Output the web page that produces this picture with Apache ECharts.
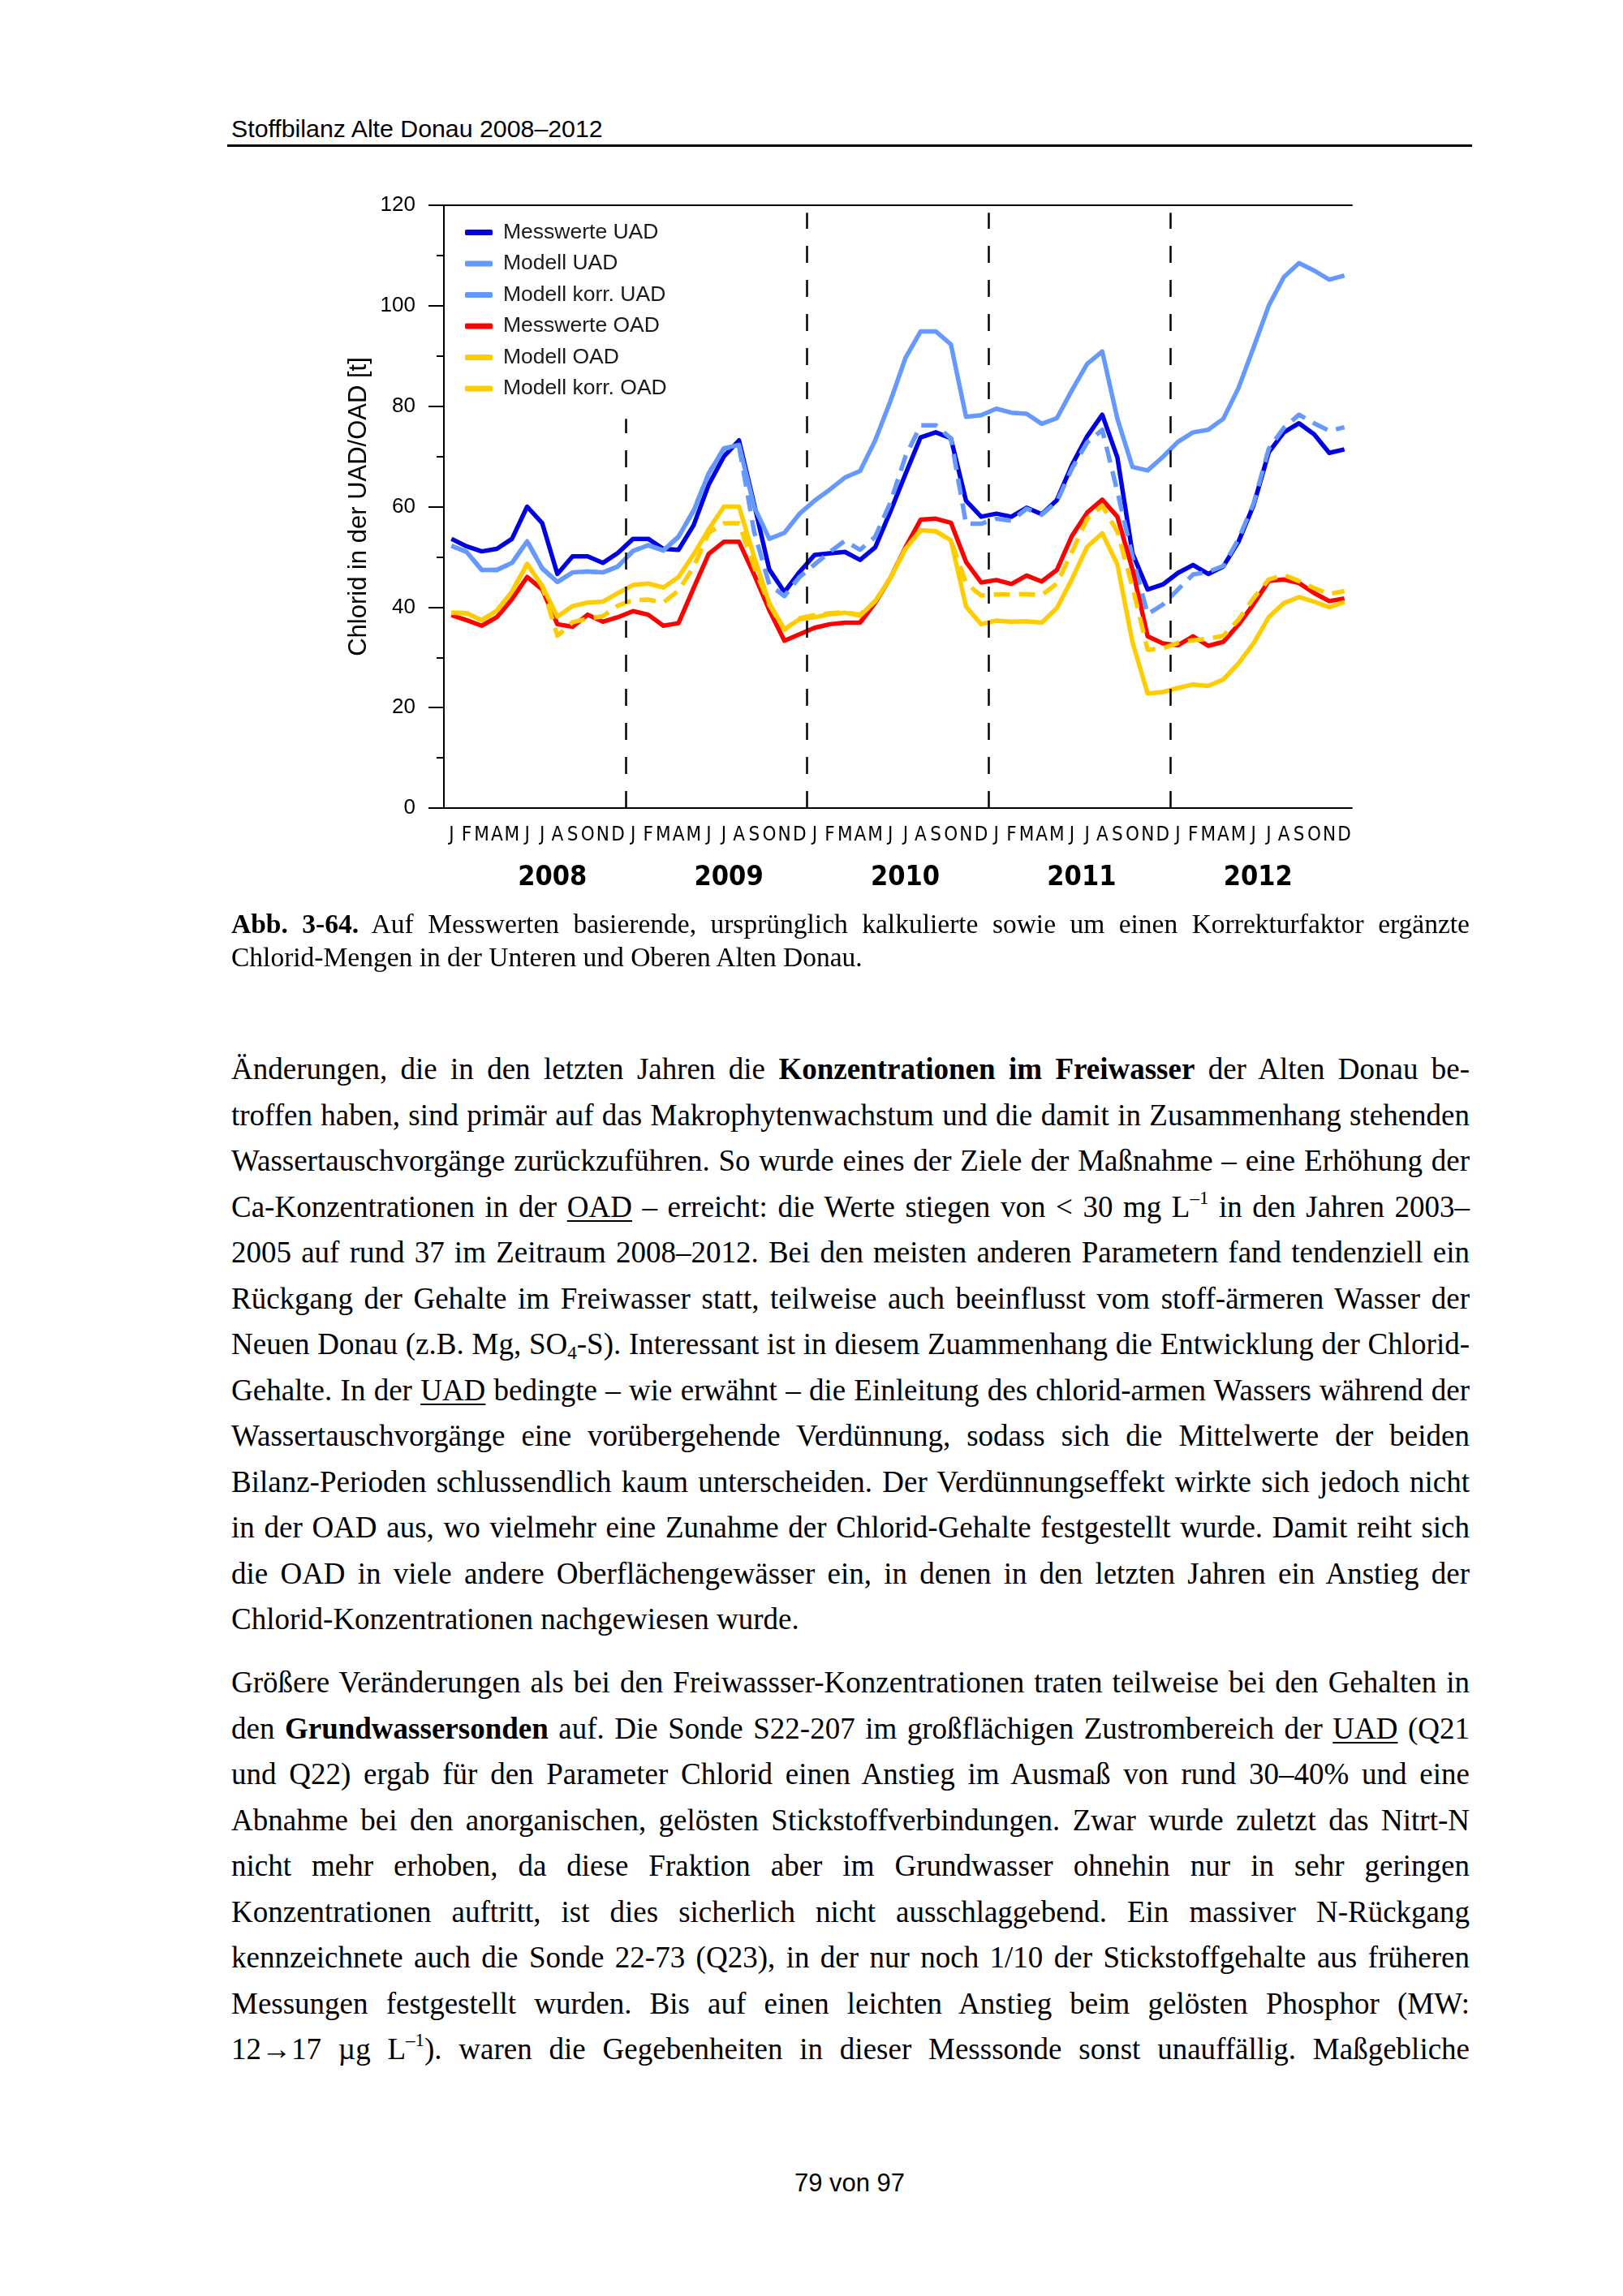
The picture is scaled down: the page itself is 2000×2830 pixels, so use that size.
<!DOCTYPE html>
<html>
<head>
<meta charset="utf-8">
<script src="https://cdn.jsdelivr.net/npm/echarts@6/dist/echarts.min.js"></script>
<style>
  html, body { margin: 0; padding: 0; background: #fff; }
  body { width: 2000px; height: 2830px; position: relative; overflow: hidden; }
  #chart { position: absolute; left: 0; top: 0; width: 2000px; height: 1120px; }
  .hdr { position: absolute; left: 285px; top: 141px; font-family: "Liberation Sans", Arial, sans-serif; font-size: 30.3px; line-height: 36px; color: #000; }
  .rule { position: absolute; left: 280px; top: 178px; width: 1534px; height: 3px; background: #000; }
  .ln { position: absolute; left: 285px; width: 1526px; font-family: "Liberation Serif", "Times New Roman", serif; color: #000; text-align: justify; text-align-last: justify; }
  .ln.last { text-align: left; text-align-last: left; }
  .cap { font-size: 33.5px; line-height: 40px; }
  .body { font-size: 37px; line-height: 56px; }
  u { text-decoration: underline; text-underline-offset: 4px; text-decoration-thickness: 2px; }
  sup { font-size: 0.62em; vertical-align: 0.7em; line-height: 0; }
  sub { font-size: 0.62em; vertical-align: -0.25em; line-height: 0; }
  .foot { position: absolute; left: 0; width: 2094px; text-align: center; top: 2673px; font-family: "Liberation Sans", Arial, sans-serif; font-size: 31px; line-height: 36px; }
</style>
</head>
<body>
<div class="hdr">Stoffbilanz Alte Donau 2008–2012</div>
<div class="rule"></div>
<div id="chart"></div>

<div class="ln cap" style="top:1119px"><b>Abb. 3-64.</b> Auf Messwerten basierende, ursprünglich kalkulierte sowie um einen Korrekturfaktor ergänzte</div>
<div class="ln cap last" style="top:1160px">Chlorid-Mengen in der Unteren und Oberen Alten Donau.</div>

<div class="ln body" style="top:1290px">Änderungen, die in den letzten Jahren die <b>Konzentrationen im Freiwasser</b> der Alten Donau be-</div>
<div class="ln body" style="top:1346.5px">troffen haben, sind primär auf das Makrophytenwachstum und die damit in Zusammenhang stehenden</div>
<div class="ln body" style="top:1403px">Wassertauschvorgänge zurückzuführen. So wurde eines der Ziele der Maßnahme – eine Erhöhung der</div>
<div class="ln body" style="top:1459.5px">Ca-Konzentrationen in der <u>OAD</u> – erreicht: die Werte stiegen von &lt; 30 mg L<sup>–1</sup> in den Jahren 2003–</div>
<div class="ln body" style="top:1516px">2005 auf rund 37 im Zeitraum 2008–2012. Bei den meisten anderen Parametern fand tendenziell ein</div>
<div class="ln body" style="top:1572.5px">Rückgang der Gehalte im Freiwasser statt, teilweise auch beeinflusst vom stoff-ärmeren Wasser der</div>
<div class="ln body" style="top:1629px">Neuen Donau (z.B. Mg, SO<sub>4</sub>-S). Interessant ist in diesem Zuammenhang die Entwicklung der Chlorid-</div>
<div class="ln body" style="top:1685.5px">Gehalte. In der <u>UAD</u> bedingte – wie erwähnt – die Einleitung des chlorid-armen Wassers während der</div>
<div class="ln body" style="top:1742px">Wassertauschvorgänge eine vorübergehende Verdünnung, sodass sich die Mittelwerte der beiden</div>
<div class="ln body" style="top:1798.5px">Bilanz-Perioden schlussendlich kaum unterscheiden. Der Verdünnungseffekt wirkte sich jedoch nicht</div>
<div class="ln body" style="top:1855px">in der OAD aus, wo vielmehr eine Zunahme der Chlorid-Gehalte festgestellt wurde. Damit reiht sich</div>
<div class="ln body" style="top:1911.5px">die OAD in viele andere Oberflächengewässer ein, in denen in den letzten Jahren ein Anstieg der</div>
<div class="ln body last" style="top:1968px">Chlorid-Konzentrationen nachgewiesen wurde.</div>

<div class="ln body" style="top:2046px">Größere Veränderungen als bei den Freiwassser-Konzentrationen traten teilweise bei den Gehalten in</div>
<div class="ln body" style="top:2102.5px">den <b>Grundwassersonden</b> auf. Die Sonde S22-207 im großflächigen Zustrombereich der <u>UAD</u> (Q21</div>
<div class="ln body" style="top:2159px">und Q22) ergab für den Parameter Chlorid einen Anstieg im Ausmaß von rund 30–40% und eine</div>
<div class="ln body" style="top:2215.5px">Abnahme bei den anorganischen, gelösten Stickstoffverbindungen. Zwar wurde zuletzt das Nitrt-N</div>
<div class="ln body" style="top:2272px">nicht mehr erhoben, da diese Fraktion aber im Grundwasser ohnehin nur in sehr geringen</div>
<div class="ln body" style="top:2328.5px">Konzentrationen auftritt, ist dies sicherlich nicht ausschlaggebend. Ein massiver N-Rückgang</div>
<div class="ln body" style="top:2385px">kennzeichnete auch die Sonde 22-73 (Q23), in der nur noch 1/10 der Stickstoffgehalte aus früheren</div>
<div class="ln body" style="top:2441.5px">Messungen festgestellt wurden. Bis auf einen leichten Anstieg beim gelösten Phosphor (MW:</div>
<div class="ln body" style="top:2498px">12→17 µg L<sup>–1</sup>). waren die Gegebenheiten in dieser Messsonde sonst unauffällig. Maßgebliche</div>

<div class="foot">79 von 97</div>

<script>
// ---- data ----
const months = ['J','F','M','A','M','J','J','A','S','O','N','D'];
const years = ['2008','2009','2010','2011','2012'];
const yTicks = [0, 20, 40, 60, 80, 100, 120];
const yearBoundaries = [12, 24, 36, 48];

const messUAD = [
  53.6, 52.1, 51.1, 51.6, 53.6, 60.0, 56.7, 46.6, 50.1, 50.1, 48.8, 50.8,
  53.6, 53.6, 51.6, 51.4, 56.3, 64.4, 70.0, 73.2, 60.5, 47.5, 43.0, 47.0,
  50.4, 50.7, 51.0, 49.4, 51.9, 59.0, 66.5, 73.8, 74.8, 73.6, 61.2, 58.0,
  58.6, 58.0, 59.8, 58.5, 61.3, 68.3, 74.0, 78.3, 69.8, 50.7, 43.5, 44.5,
  46.8, 48.4, 46.6, 48.1, 53.0, 60.3, 70.8, 74.8, 76.6, 74.4, 70.7, 71.4
];
const modellUAD = [
  52.2, 51.0, 47.4, 47.4, 48.8, 53.1, 47.7, 45.0, 46.9, 47.1, 46.9, 48.1,
  51.2, 52.3, 51.3, 54.0, 59.2, 66.6, 71.6, 72.3, 60.0, 53.6, 54.8, 58.6,
  61.2, 63.4, 65.8, 67.1, 73.2, 81.0, 89.6, 94.9, 94.9, 92.3, 77.9, 78.2,
  79.5, 78.7, 78.5, 76.5, 77.6, 83.2, 88.4, 90.9, 77.5, 67.9, 67.2, 69.9,
  72.9, 74.8, 75.3, 77.5, 83.6, 91.7, 100.0, 105.7, 108.5, 107.0, 105.2, 106.0
];
const korrUAD = [
  52.2, 51.0, 47.4, 47.4, 48.8, 53.1, 47.7, 45.0, 46.9, 47.1, 46.9, 48.1,
  51.2, 52.3, 51.3, 54.0, 59.2, 66.6, 71.6, 72.0, 55.0, 44.5, 42.2, 46.0,
  48.5, 51.0, 53.2, 51.4, 54.0, 60.8, 70.0, 76.2, 76.2, 73.6, 56.6, 56.6,
  57.6, 57.2, 59.6, 58.4, 61.0, 67.6, 72.8, 75.3, 63.0, 50.0, 38.6, 40.5,
  43.5, 46.5, 47.0, 48.2, 53.5, 60.6, 71.5, 75.7, 78.3, 76.6, 75.1, 75.8
];
const messOAD = [
  38.4, 37.4, 36.3, 38.0, 41.6, 46.0, 43.5, 36.6, 36.1, 38.5, 37.1, 38.0,
  39.2, 38.5, 36.3, 36.8, 43.8, 50.6, 53.0, 53.0, 46.5, 39.4, 33.3, 34.6,
  35.9, 36.6, 36.9, 36.9, 40.9, 45.8, 51.9, 57.4, 57.6, 56.8, 49.0, 44.9,
  45.4, 44.6, 46.3, 45.1, 47.4, 54.2, 58.8, 61.4, 58.0, 47.5, 34.2, 32.8,
  32.4, 34.2, 32.3, 33.1, 36.5, 40.6, 45.2, 45.5, 44.8, 42.8, 41.2, 41.7
];
const modellOAD = [
  38.9, 38.8, 37.4, 39.3, 43.1, 48.6, 44.2, 38.1, 40.2, 40.9, 41.1, 42.8,
  44.4, 44.7, 43.9, 46.0, 50.5, 55.5, 60.0, 60.0, 50.0, 40.8, 35.6, 37.6,
  38.0, 38.6, 38.9, 38.3, 41.2, 45.8, 51.6, 55.3, 55.1, 53.3, 40.1, 36.6,
  37.3, 37.1, 37.2, 36.9, 39.8, 45.6, 52.0, 54.7, 48.5, 33.0, 22.8, 23.1,
  23.9, 24.6, 24.3, 25.6, 28.8, 32.8, 38.0, 40.8, 42.0, 41.1, 40.0, 41.0
];
const korrOAD = [
  38.9, 38.8, 37.4, 39.3, 43.1, 48.6, 44.2, 34.3, 37.0, 37.7, 38.2, 40.3,
  41.4, 41.5, 40.9, 43.3, 48.0, 54.8, 56.7, 56.7, 48.0, 40.5, 35.5, 37.8,
  38.4, 38.8, 39.0, 38.5, 41.2, 45.8, 51.6, 55.3, 55.1, 53.3, 44.8, 42.3,
  42.5, 42.5, 42.6, 42.4, 44.7, 51.0, 57.6, 60.2, 55.0, 44.0, 31.5, 31.8,
  32.9, 33.4, 33.7, 34.3, 37.5, 41.8, 45.5, 46.4, 45.2, 43.8, 42.6, 43.2
];

// ---- chart ----
const categories = [];
years.forEach(y => months.forEach(m => categories.push(m)));

const DARK = '#0000e6', LIGHT = '#6699ff', RED = '#ff0000', YEL = '#ffcc00';
const sans = '"Liberation Sans", Arial, sans-serif';
const narrow = '"Liberation Sans Narrow", "DejaVu Sans Condensed", "Liberation Sans", sans-serif';

function lineSeries(name, data, color, dashed) {
  return {
    name, type: 'line', data, xAxisIndex: 0, yAxisIndex: 0,
    symbol: 'none', showSymbol: false, silent: true,
    lineStyle: { color, width: 5.5, type: dashed ? [20, 11] : 'solid', join: 'round', cap: 'butt' },
    itemStyle: { color }
  };
}

const chart = echarts.init(document.getElementById('chart'), null, { renderer: 'canvas' });
const tops = [77.5, 118.5, 118.5, 118.5];
chart.setOption({
  animation: false,
  backgroundColor: 'transparent',
  grid: [
    { left: 547, right: 334, top: 253, bottom: 124, containLabel: false },
    { left: 572, right: 341, top: 253, bottom: 124, containLabel: false }
  ],
  legend: {
    orient: 'vertical', left: 568, top: 268,
    icon: 'roundRect', itemWidth: 34, itemHeight: 7, itemGap: 11.5,
    textStyle: { fontFamily: sans, fontSize: 26.5, lineHeight: 26, color: '#1a1a1a', padding: [0, 0, 0, 8] },
    data: ['Messwerte UAD', 'Modell UAD', 'Modell korr. UAD', 'Messwerte OAD', 'Modell OAD', 'Modell korr. OAD']
  },
  xAxis: [
    {
      type: 'category', data: categories, position: 'bottom', boundaryGap: true, gridIndex: 0,
      axisLine: { show: true, lineStyle: { color: '#000', width: 2 } },
      axisTick: { show: false },
      axisLabel: { interval: 0, margin: 22, fontFamily: narrow, fontSize: 24, color: '#000' }
    },
    {
      type: 'category', data: years, position: 'bottom', boundaryGap: true, gridIndex: 1,
      axisLine: { show: false }, axisTick: { show: false },
      axisLabel: { interval: 0, margin: 69, fontFamily: narrow, fontWeight: 'bold', fontSize: 34, color: '#000' }
    },
    {
      type: 'value', min: 0, max: 60, position: 'top', gridIndex: 0,
      axisLine: { show: true, lineStyle: { color: '#000', width: 2 } },
      axisTick: { show: false }, axisLabel: { show: false }, splitLine: { show: false }
    }
  ],
  yAxis: [
    {
      type: 'value', min: yTicks[0], max: yTicks[yTicks.length - 1], interval: 20, gridIndex: 0,
      name: 'Chlorid in der UAD/OAD [t]', nameLocation: 'middle', nameGap: 80, nameRotate: 90,
      nameTextStyle: { fontFamily: sans, fontSize: 31, color: '#000' },
      axisLine: { show: true, lineStyle: { color: '#000', width: 2 } },
      axisTick: { show: true, length: 19, lineStyle: { color: '#000', width: 2 } },
      minorTick: { show: true, splitNumber: 2, length: 9, lineStyle: { color: '#000', width: 2 } },
      splitLine: { show: false },
      axisLabel: { margin: 35, fontFamily: sans, fontSize: 26, color: '#000' }
    },
    {
      type: 'value', gridIndex: 1, min: 0, max: 1, show: false
    }
  ],
  series: [
    {
      type: 'line', data: [], xAxisIndex: 2, yAxisIndex: 0, silent: true, symbol: 'none',
      markLine: {
        silent: true, symbol: ['none', 'none'], label: { show: false },
        lineStyle: { color: '#000', width: 2.5, type: [21, 21] },
        data: yearBoundaries.map((b, i) => [{ coord: [b, 0] }, { coord: [b, tops[i]] }])
      }
    },
    lineSeries('Messwerte UAD', messUAD, DARK, false),
    lineSeries('Modell UAD', modellUAD, LIGHT, false),
    lineSeries('Modell korr. UAD', korrUAD, LIGHT, true),
    lineSeries('Messwerte OAD', messOAD, RED, false),
    lineSeries('Modell OAD', modellOAD, YEL, false),
    lineSeries('Modell korr. OAD', korrOAD, YEL, true)
  ]
});
</script>
</body>
</html>
